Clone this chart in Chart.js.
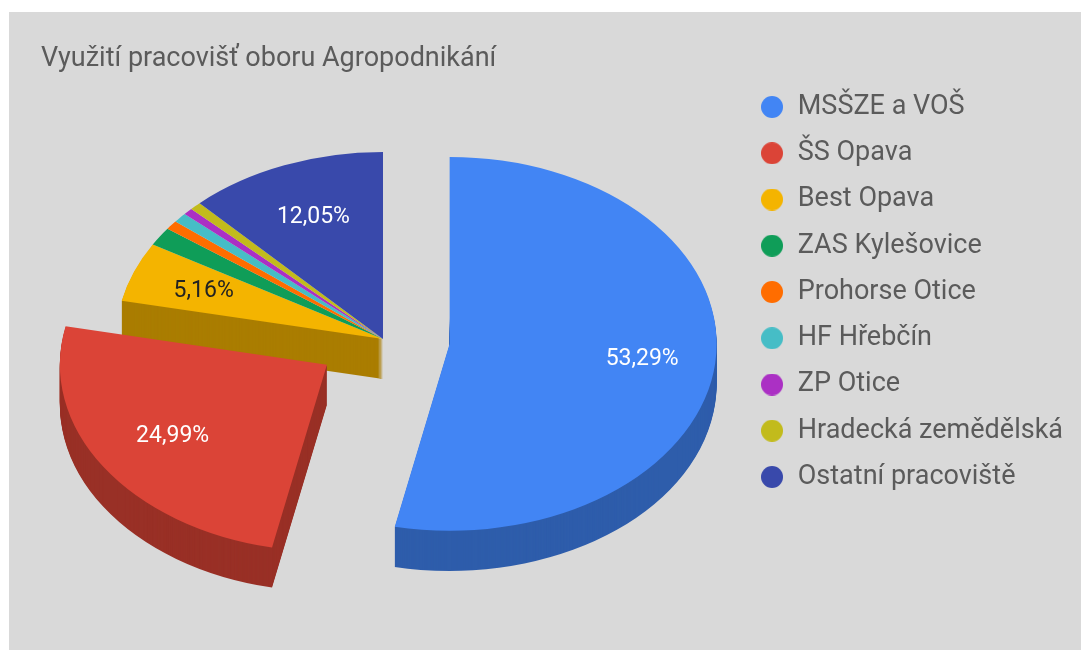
<!DOCTYPE html>
<html><head><meta charset="utf-8">
<script src="https://cdn.jsdelivr.net/npm/chart.js@4"></script>
<style>html,body{margin:0;padding:0;background:#fff;overflow:hidden}
#w{position:absolute;left:9px;top:12px;width:1072px;height:638px;background:#d9d9d9}
canvas{display:block}</style></head><body>
<div id="w"><canvas id="c" width="1072" height="638"></canvas></div>
<script>
const categories=["MSŠZE a VOŠ","ŠS Opava","Best Opava","ZAS Kylešovice","Prohorse Otice","HF Hřebčín","ZP Otice","Hradecká zemědělská","Ostatní pracoviště"];
const shares=[53.29,24.99,5.16,1.6,0.78,0.84,0.58,0.70,12.05];
const pieLabels=["53,29%","24,99%","5,16%","","","","","","12,05%"];
const colors=["#4285f4","#db4437","#f4b400","#0f9d58","#ff6d00","#46bdc6","#ab30c4","#c2bb1c","#3949ab"];
const sideColors=["#2e5dab","#993026","#aa7d00"];
const labelColors=["#fff","#fff","#222","#fff","#fff","#fff","#fff","#fff","#fff"];
const offsets=[268,268,0,0,0,0,0,0,0];
const labelRatios=[0.725,0.69,0.72,0.72,0.72,0.72,0.72,0.72,0.705];
const R=267,tilt=0.7,depth=40,targetX=374,targetY=327;
function tiltCtx(ctx,arc){
  ctx.translate(targetX,targetY);ctx.scale(1,tilt);ctx.translate(-arc.x,-arc.y);
}
function dot(color){
  const c=document.createElement('canvas');c.width=22;c.height=22;
  const x=c.getContext('2d');x.fillStyle=color;x.beginPath();x.arc(11,11,11,0,Math.PI*2);x.fill();
  return c;
}
const tilted3d={id:'tilted3d',
  afterDatasetsUpdate(chart){
    // Arc.draw resizes offset arcs wider than a half turn; this keeps their true radius and angles
    chart.getDatasetMeta(0).data.forEach(a=>{
      if(a.circumference>=Math.PI) a.circumference=Math.PI/2;
    });
  },
  beforeDatasetsDraw(chart){
    const ctx=chart.ctx,arcs=chart.getDatasetMeta(0).data;
    const order=[2,1,0]; // only these slices show a side wall
    ctx.save();
    order.forEach(i=>{
      const a=arcs[i];
      const ghost=Object.create(a);
      ghost.options=Object.assign({},a.options,{backgroundColor:sideColors[i],borderWidth:0});
      if(i===0) ghost.startAngle=a.startAngle+0.01; // its back edge stays hidden under the top face
      for(let d=depth;d>=1;d--){
        ctx.save();ctx.translate(0,d);tiltCtx(ctx,a);a.draw.call(ghost,ctx);ctx.restore();
      }
    });
    tiltCtx(ctx,arcs[0]);
  },
  afterDatasetsDraw(chart){
    const ctx=chart.ctx,arcs=chart.getDatasetMeta(0).data;
    ctx.restore();
    ctx.save();
    ctx.font='23px Roboto';ctx.textAlign='center';ctx.textBaseline='middle';
    arcs.forEach((a,i)=>{
      if(!pieLabels[i])return;
      const mid=(a.startAngle+a.endAngle)/2;
      const r=R*labelRatios[i]+offsets[i]/4;
      const x=targetX+Math.cos(mid)*r;
      const y=targetY+Math.sin(mid)*r*tilt+1;
      ctx.fillStyle=labelColors[i];
      ctx.fillText(pieLabels[i],x,y);
    });
    ctx.restore();
  }
};
new Chart(document.getElementById('c'),{
  type:'pie',
  data:{labels:categories,datasets:[{data:shares,backgroundColor:colors,offset:offsets,borderWidth:0,hoverOffset:0,clip:false}]},
  plugins:[tilted3d],
  options:{
    responsive:false,animation:false,radius:R,
    layout:{padding:{left:32,right:8,top:31,bottom:109}},
    plugins:{
      tooltip:{enabled:false},
      title:{display:true,text:"Využití pracovišť oboru Agropodnikání",align:'start',color:'#5b5b5b',font:{family:'Roboto',size:27,weight:'normal'},padding:{top:0,bottom:0}},
      legend:{position:'right',align:'center',labels:{usePointStyle:true,pointStyleWidth:24.5,boxHeight:15.56,padding:19.25,color:'#5b5b5b',font:{family:'Roboto',size:27},
        generateLabels(chart){
          return categories.map((t,i)=>({text:t,fillStyle:colors[i],strokeStyle:colors[i],lineWidth:0,pointStyle:dot(colors[i]),hidden:false,index:i,fontColor:'#5b5b5b'}));
        }}}
    }
  }
});
</script></body></html>
